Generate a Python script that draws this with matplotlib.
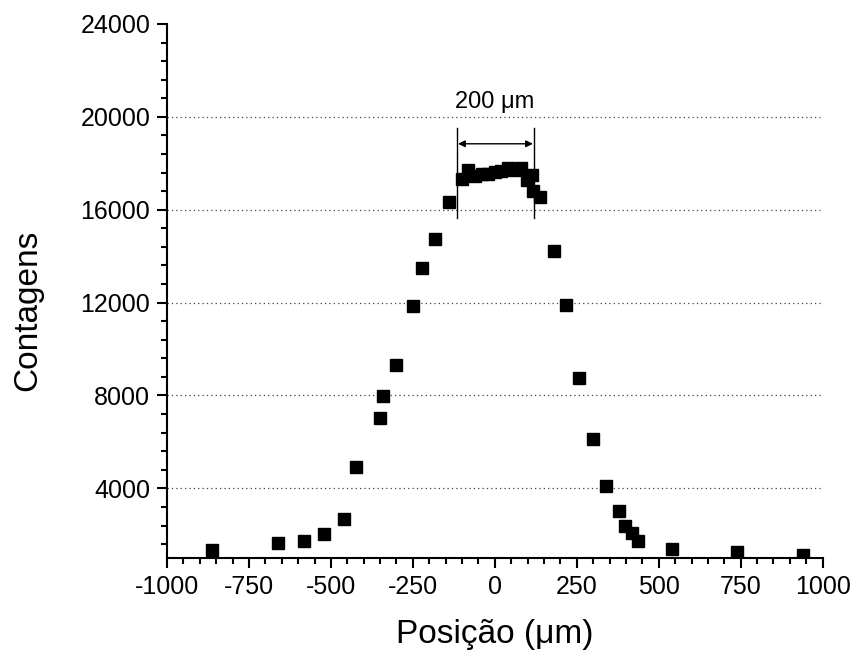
import numpy as np
import matplotlib.pyplot as plt
from matplotlib.ticker import MultipleLocator

plt.rcParams['font.family'] = ['Liberation Sans', 'DejaVu Sans']
plt.rcParams['axes.unicode_minus'] = False

# dados
posicao = [-862, -660, -582, -520, -461, -423, -351, -341, -302, -250, -222, -181, -141,
           -101, -81, -60, -40, -20, 0, 20, 40, 60, 80, 97, 112, 117, 138,
           179, 218, 258, 299, 339, 378, 398, 419, 438, 540, 740, 939]
contagens = [1360, 1665, 1750, 2035, 2667, 4917, 7011, 7987, 9320, 11858, 13492, 14740, 16331,
             17320, 17700, 17450, 17520, 17560, 17620, 17650, 17780, 17720, 17800, 17290, 17500, 16790, 16550,
             14237, 11884, 8761, 6138, 4086, 3024, 2366, 2095, 1750, 1390, 1277, 1118]

y_ticks = [4000, 8000, 12000, 16000, 20000, 24000]
x_ticks = [-1000, -750, -500, -250, 0, 250, 500, 750, 1000]

fig = plt.figure(figsize=(8.59, 6.64), dpi=100)
ax = fig.add_axes([0.1944, 0.1596, 0.7633, 0.8043])

for yv in y_ticks[:-1]:
    ax.axhline(yv, color='#444444', lw=0.9, ls=(0, (1, 2.5)), zorder=1)

ax.plot(posicao, contagens, 's', color='black', ms=8.5, mec='black', zorder=3)

# marcacao de 200 um
ax.plot([-116, -116], [15650, 19500], color='black', lw=1.0)
ax.plot([121, 121], [15650, 19500], color='black', lw=1.0)
ax.annotate('', xy=(-112, 18840), xytext=(116, 18840),
            arrowprops=dict(arrowstyle='<|-|>', color='black', lw=1.0,
                            mutation_scale=10, shrinkA=0, shrinkB=0))
ax.text(0, 20150, '200 \u03bcm', ha='center', va='bottom', fontsize=17)

ax.set_xlim(-1000, 1000)
ax.set_ylim(1000, 24000)
ax.set_xticks(x_ticks)
ax.set_yticks(y_ticks)
ax.xaxis.set_minor_locator(MultipleLocator(50))
ax.yaxis.set_minor_locator(MultipleLocator(800))
ax.tick_params(which='major', direction='out', length=7, width=1.5, labelsize=18, pad=5)
ax.tick_params(which='minor', direction='out', length=4, width=1.5)

for s in ['top', 'right']:
    ax.spines[s].set_visible(False)
for s in ['left', 'bottom']:
    ax.spines[s].set_linewidth(1.5)

fig.text(495 / 859, 1 - 643 / 664, 'Posi\u00e7\u00e3o (\u03bcm)', fontsize=24,
         ha='center', va='baseline')
fig.text(28 / 859, 1 - 310 / 664, 'Contagens', fontsize=24, rotation=90,
         ha='center', va='center')

fig.savefig('out.png', dpi=100)
